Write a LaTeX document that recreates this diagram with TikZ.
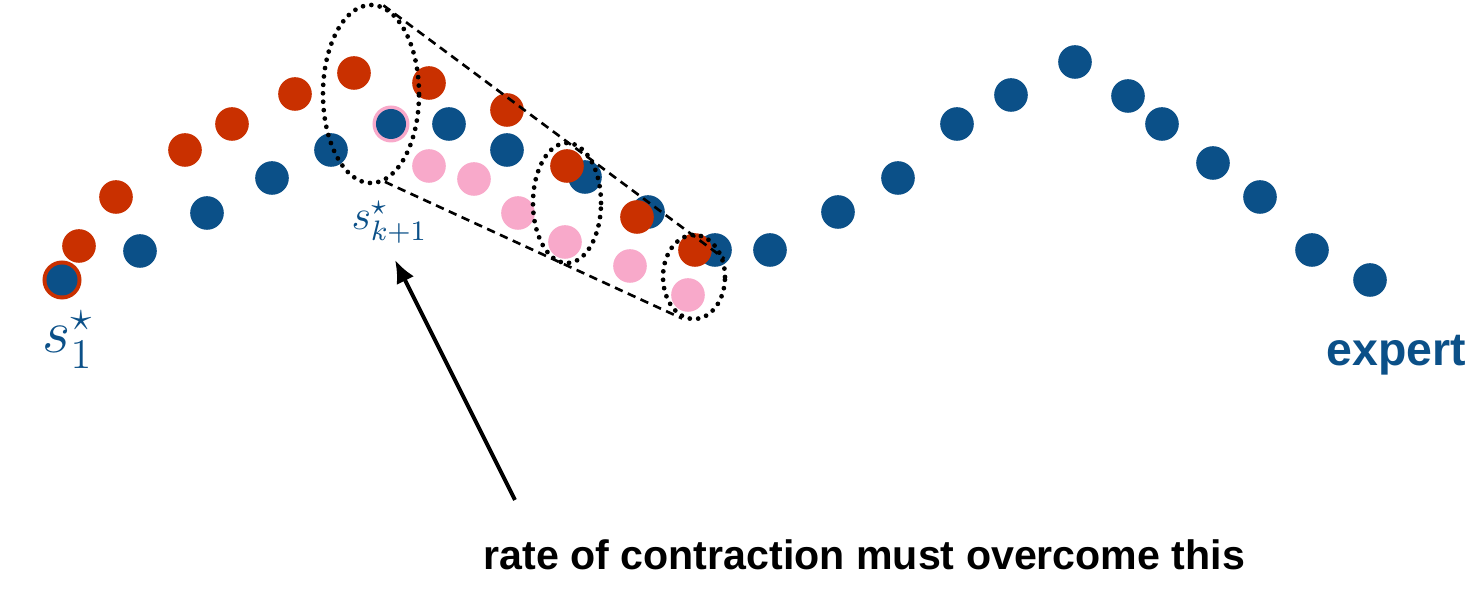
\documentclass[tikz,border=0pt]{standalone}
\usepackage{fontspec}
\usepackage{amssymb}
\newfontfamily\headfont{Liberation Sans}
\usetikzlibrary{shapes.geometric,arrows.meta}
\definecolor{expertblue}{HTML}{0B5088}
\definecolor{learnerred}{HTML}{C93000}
\definecolor{rollpink}{HTML}{F8A9CA}
\begin{document}
\begin{tikzpicture}[x=0.01cm, y=-0.01cm,
    expdot/.style={fill=expertblue},
    lrndot/.style={fill=learnerred},
    rolldot/.style={fill=rollpink},
    bundle/.style={ellipse, draw, inner sep=0pt,
              line width=1.35pt, line cap=round,
              dash pattern=on 0pt off 2.4pt},
    tube/.style={line width=0.75pt, dash pattern=on 2.4pt off 1.6pt},
    arrow/.style={-{Latex[length=6.5pt,width=5.5pt]}, line width=1.1pt}
]
    \useasboundingbox (0,0) rectangle (1478,592);

    % rings behind the first states
    \fill[lrndot] (62,280) circle[radius=0.195cm];
    \fill[rolldot] (391,124) circle[radius=0.185cm];

    % expert trajectory
    \foreach \x/\y in {140/251, 207/213, 272/178, 331/150, 449/124,
        507/150, 585/177, 648/212, 715/250, 770/250, 838/212, 898/178,
        957/124, 1011/95, 1075/62, 1128/96, 1162/124, 1213/163,
        1260/197, 1312/250, 1370/280}
        \fill[expdot] (\x,\y) circle[radius=0.168cm];
    \fill[expdot] (62,280) circle[radius=0.155cm];
    \fill[expdot] (391,124) circle[radius=0.15cm];

    % rolled-out states
    \foreach \x/\y in {429/166, 474/179, 518/213, 565/242, 630/266, 688/295}
        \fill[rolldot] (\x,\y) circle[radius=0.168cm];

    % learner trajectory
    \foreach \x/\y in {79/246, 116/197, 185/150, 232/124, 295/94,
        354/73, 429/83, 507/110, 567/166, 637/217, 695/250}
        \fill[lrndot] (\x,\y) circle[radius=0.168cm];

    % contracting bundles
    \node[bundle, minimum width=0.96cm, minimum height=1.78cm] (e1) at (371,94) {};
    \node[bundle, minimum width=0.68cm, minimum height=1.2cm] (e2) at (567,203) {};
    \node[bundle, minimum width=0.62cm, minimum height=0.84cm] (e3) at (694,277) {};
    \draw[tube] (e1.82) -- (e3.31);
    \draw[tube] (e1.-81) -- (e3.-106);

    \node[anchor=base west, inner sep=0pt, text=expertblue] (s1) at (42,353)
        {\fontsize{18}{20}\selectfont$s_1^\star$};
    \node[anchor=base west, inner sep=0pt, text=expertblue] (sk) at (351,230)
        {\fontsize{11.5}{13}\selectfont$s_{k+1}^\star$};
    \node[anchor=base west, inner sep=0pt, text=expertblue] (expert) at (1326,366)
        {\headfont\bfseries\fontsize{13.2}{15}\selectfont expert};
    \node[anchor=base west, inner sep=0pt] (note) at (483,570)
        {\headfont\bfseries\fontsize{11.7}{14}\selectfont rate of contraction must overcome this};

    \coordinate (tail) at (515,500);
    \coordinate (tip) at (395,260);
    \draw[arrow] (tail) -- (tip);
\end{tikzpicture}
\end{document}
